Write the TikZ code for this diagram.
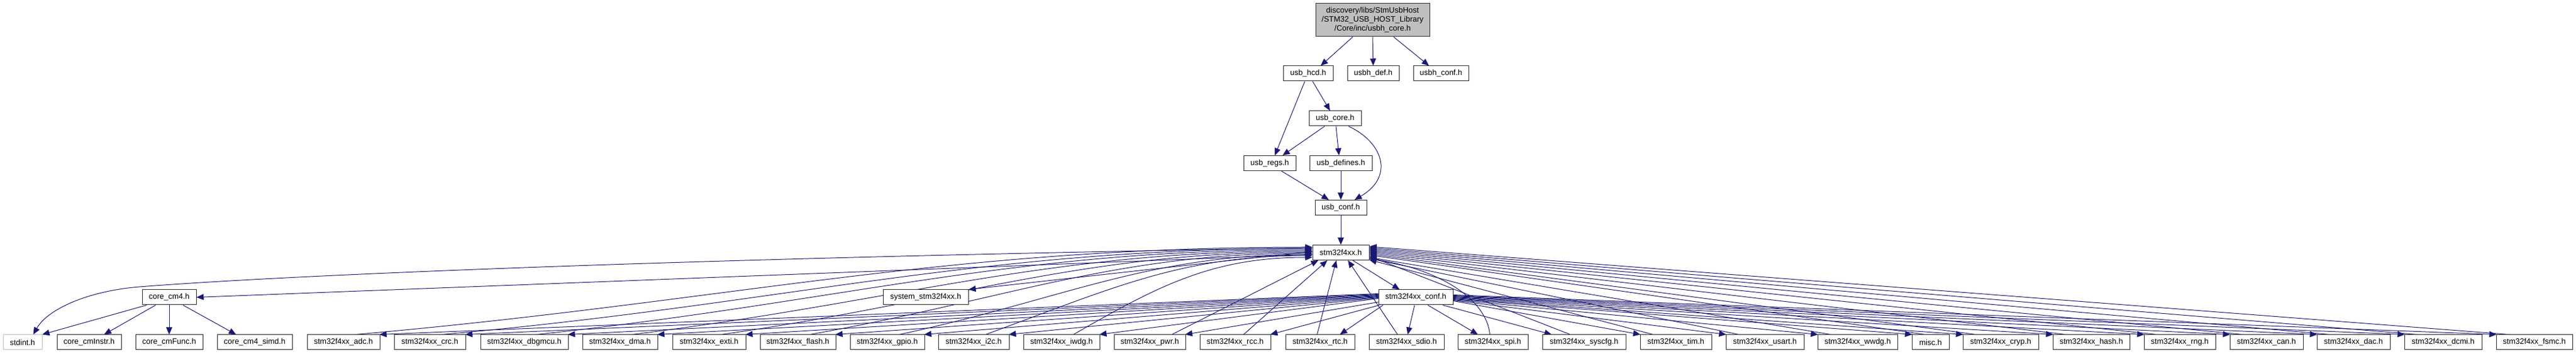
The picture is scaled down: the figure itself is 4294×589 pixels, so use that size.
\documentclass[tikz,border=0pt]{standalone}
\usepackage{fontspec}
\setmainfont{Liberation Sans}
\usetikzlibrary{arrows.meta,backgrounds}
\definecolor{edgecol}{HTML}{191970}
\definecolor{topfill}{HTML}{BFBFBF}
\definecolor{extgray}{HTML}{BFBFBF}
\tikzset{
  box/.style={draw=black!85, line width=1pt, fill=white, minimum height=25pt, inner sep=0pt, font=\fontsize{13}{15}\selectfont, anchor=center},
  extbox/.style={box, draw=extgray},
  edge/.style={draw=edgecol, line width=1pt, -{Triangle[length=12pt,width=10pt]}},
}
\newcommand\bx[5]{\node[box, minimum width={(#3-#2)*1pt}] (#1) at ({(#2+#3)/2},#4) {#5};}
\begin{document}
\begin{tikzpicture}[x=1pt,y=1pt]
\useasboundingbox (0,0) rectangle (4294,589);
% top part
\node[box, fill=topfill, minimum width=190pt, minimum height=55pt, align=center] (top) at (2288,555.5) {discovery/libs/StmUsbHost\\/STM32\_USB\_HOST\_Library\\/Core/inc/usbh\_core.h};
\bx{hcd}{2139}{2222}{466.5}{usb\_hcd.h}
\bx{udef}{2246}{2332}{466.5}{usbh\_def.h}
\bx{hconf}{2356}{2448}{466.5}{usbh\_conf.h}
\bx{core}{2182}{2269}{391.5}{usb\_core.h}
\bx{regs}{2073}{2160}{317}{usb\_regs.h}
\bx{defs}{2183}{2287}{317}{usb\_defines.h}
\bx{uconf}{2192}{2278}{243}{usb\_conf.h}
\bx{stm}{2188}{2282}{168}{stm32f4xx.h}
% rank 6
\bx{cm4}{237}{327}{93.5}{core\_cm4.h}
\bx{sys}{1472}{1614}{93.5}{system\_stm32f4xx.h}
\bx{conf}{2298}{2422}{93.5}{stm32f4xx\_conf.h}
% leaves
\node[extbox, minimum width=65pt] (stdint) at (37.5,18.5) {stdint.h};
\bx{cmi}{95}{202}{18.5}{core\_cmInstr.h}
\bx{cmf}{226}{338}{18.5}{core\_cmFunc.h}
\bx{simd}{362}{487}{18.5}{core\_cm4\_simd.h}
\bx{adc}{512}{633}{18.5}{stm32f4xx\_adc.h}
\bx{crc}{657}{776}{18.5}{stm32f4xx\_crc.h}
\bx{dbgmcu}{801}{947}{18.5}{stm32f4xx\_dbgmcu.h}
\bx{dma}{971}{1096}{18.5}{stm32f4xx\_dma.h}
\bx{exti}{1121}{1243}{18.5}{stm32f4xx\_exti.h}
\bx{flash}{1267}{1393}{18.5}{stm32f4xx\_flash.h}
\bx{gpio}{1417}{1541}{18.5}{stm32f4xx\_gpio.h}
\bx{i2c}{1564}{1682}{18.5}{stm32f4xx\_i2c.h}
\bx{iwdg}{1706}{1833}{18.5}{stm32f4xx\_iwdg.h}
\bx{pwr}{1857}{1976}{18.5}{stm32f4xx\_pwr.h}
\bx{rcc}{2000}{2118}{18.5}{stm32f4xx\_rcc.h}
\bx{rtc}{2143}{2258}{18.5}{stm32f4xx\_rtc.h}
\bx{sdio}{2282}{2407}{18.5}{stm32f4xx\_sdio.h}
\bx{spi}{2430}{2547}{18.5}{stm32f4xx\_spi.h}
\bx{syscfg}{2571}{2710}{18.5}{stm32f4xx\_syscfg.h}
\bx{tim}{2734}{2853}{18.5}{stm32f4xx\_tim.h}
\bx{usart}{2877}{3007}{18.5}{stm32f4xx\_usart.h}
\bx{wwdg}{3030}{3163}{18.5}{stm32f4xx\_wwdg.h}
\bx{misc}{3187}{3249}{18.5}{misc.h}
\bx{cryp}{3272}{3398}{18.5}{stm32f4xx\_cryp.h}
\bx{hash}{3422}{3550}{18.5}{stm32f4xx\_hash.h}
\bx{rng}{3574}{3693}{18.5}{stm32f4xx\_rng.h}
\bx{can}{3717}{3839}{18.5}{stm32f4xx\_can.h}
\bx{dac}{3862}{3984}{18.5}{stm32f4xx\_dac.h}
\bx{dcmi}{4008}{4137}{18.5}{stm32f4xx\_dcmi.h}
\bx{fsmc}{4161}{4288}{18.5}{stm32f4xx\_fsmc.h}
\begin{pgfonlayer}{background}
% top part edges
\draw[edge] ([xshift=-33pt]top.south) -- ([xshift=21pt]hcd.north);
\draw[edge] (top.south) -- (udef.north);
\draw[edge] ([xshift=35pt]top.south) -- ([xshift=-20pt]hconf.north);
\draw[edge] ([xshift=7.5pt]hcd.south) -- ([xshift=-8.5pt]core.north);
\draw[edge] ([xshift=-5.5pt]hcd.south) -- ([xshift=8.5pt]regs.north);
\draw[edge] ([xshift=-17.5pt]core.south) -- ([xshift=21.5pt]regs.north);
\draw[edge] ([xshift=1.5pt]core.south) -- ([xshift=-3pt]defs.north);
\draw[edge] ([xshift=22.5pt]core.south) .. controls (2305,352) and (2325,295) .. ([xshift=23pt]uconf.north);
\draw[edge] ([xshift=19.5pt]regs.south) -- ([xshift=-20pt]uconf.north);
\draw[edge] (defs.south) -- (uconf.north);
\draw[edge] (uconf.south) -- (stm.north);
% stm32f4xx.h outgoing
\draw[edge] ([yshift=-3pt]stm.west) -- (cm4.east);
\draw[edge] ([yshift=8pt]stm.west) .. controls (1200,160) and (500,132) .. (233,111) .. controls (150,104.5) and (80,75) .. ([xshift=18pt]stdint.north);
\draw[edge] ([yshift=2pt]stm.west) -- (sys.north east);
\draw[edge] ([xshift=20pt]stm.south) -- ([xshift=-27pt]conf.north);
% core_cm4.h outgoing
\draw[edge] ([xshift=8pt]cm4.south west) -- (stdint.north east);
\draw[edge] ([xshift=23pt]cm4.south west) -- ([xshift=25pt]cmi.north);
\draw[edge] (cm4.south) -- (cmf.north);
\draw[edge] ([xshift=23pt]cm4.south) -- ([xshift=-31pt]simd.north);
% left leaves
\foreach \n/\s/\e/\o/\L in {adc/6/9/5/620, crc/5/7/5/565, dbgmcu/4/5/6/505, dma/3/3/7/445, exti/2/1/8/390, flash/1/-1/10/330, gpio/0/-3/12/275, i2c/-1/-5/20/220, iwdg/-2/-8/30/165}{
  \draw[edge] ([yshift=\s pt]conf.west) -- ([xshift=-1pt]\n.north east);
  \draw[edge] ([xshift=20pt]\n.north) .. controls +(\o:\L) and +(180:\L) .. ([yshift=\e pt]stm.west);
}
% centre leaves
\draw[edge] ([yshift=-8pt]conf.west) -- ([xshift=-1pt]pwr.north east);
\draw[edge] ([xshift=37pt]pwr.north) -- ([xshift=10pt]stm.south west);
\draw[edge] ([xshift=2pt]conf.south west) -- ([xshift=-1pt]rcc.north east);
\draw[edge] ([xshift=14pt]rcc.north) -- ([xshift=25pt]stm.south west);
\draw[edge] ([xshift=8pt]conf.south west) -- ([xshift=-25pt]rtc.north east);
\draw[edge] ([xshift=-5pt]rtc.north) -- ([xshift=40pt]stm.south west);
\draw[edge] ([xshift=-2pt]conf.south) -- ([xshift=2pt]sdio.north);
\draw[edge] ([xshift=-15pt]sdio.north) -- ([xshift=12pt]stm.south);
\draw[edge] ([xshift=20pt]conf.south) -- ([xshift=-25pt]spi.north);
\draw[edge] ([xshift=-5pt]spi.north) .. controls (2478,90) and (2400,140) .. ([yshift=-10pt]stm.east);
\draw[edge] ([xshift=45pt]conf.south) -- ([xshift=16pt]syscfg.north west);
\draw[edge] ([xshift=47pt]syscfg.north west) -- ([yshift=-6pt]stm.east);
% right leaves
\foreach \n/\s/\e in {tim/-6/-12, usart/-5/-10, wwdg/-4/-8, misc/-3/-4, cryp/-2/-2, hash/-1/0, rng/0/2, can/1/4, dac/2/6, dcmi/3/8, fsmc/4/10}{
  \draw[edge] ([yshift=\s pt]conf.east) -- ([xshift=1pt]\n.north west);
  \draw[edge] ([xshift=22pt]\n.north west) -- ([yshift=\e pt]stm.east);
}
\end{pgfonlayer}
\end{tikzpicture}
\end{document}
